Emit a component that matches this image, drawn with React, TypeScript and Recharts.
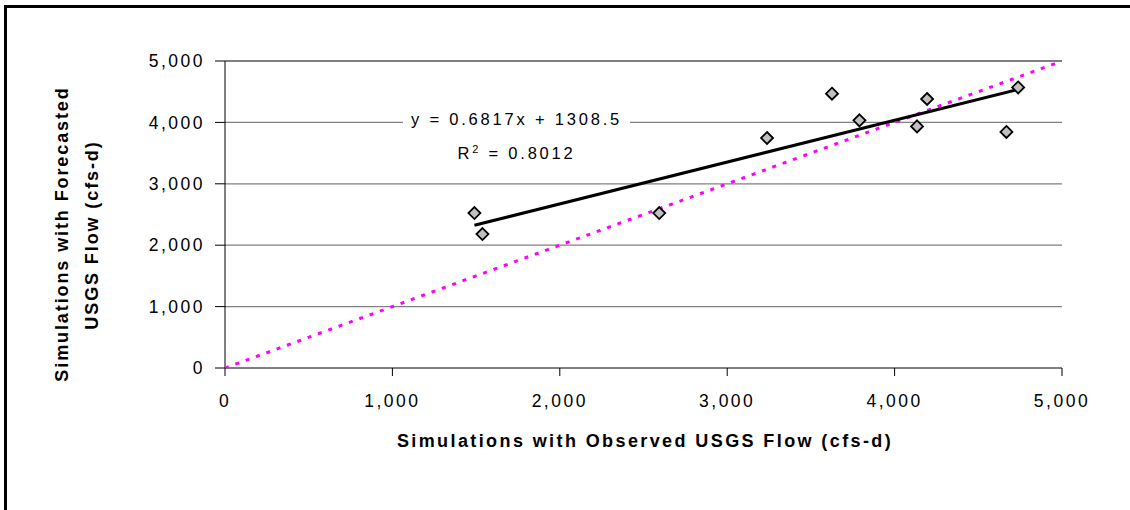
import { ScatterChart, Scatter, XAxis, YAxis, CartesianGrid, ReferenceLine } from "recharts";

// observed (x) vs forecasted (y) simulation results, cfs-d
const observed = [1490, 1538, 2594, 3238, 3626, 3790, 4134, 4194, 4668, 4738];
const forecasted = [2524, 2182, 2524, 3746, 4467, 4033, 3935, 4381, 3844, 4570];
const points = observed.map((x, i) => ({ x, y: forecasted[i] }));

// linear trend end points (y = 0.6817x + 1308.5) and 1:1 line
const trendLine = [
  { x: 1490, y: 2324 },
  { x: 4738, y: 4538 },
];
const oneToOne = [
  { x: 0, y: 0 },
  { x: 5000, y: 5000 },
];

const ticks = [0, 1000, 2000, 3000, 4000, 5000];
const gridTicks = [1000, 2000, 3000, 4000];

const FONT = "'Liberation Sans', Arial, sans-serif";
const fmt = (v: number) => v.toLocaleString("en-US");

const Diamond = (props: any) => {
  const { cx, cy } = props;
  if (cx == null || cy == null) return null;
  const r = 6;
  return (
    <path
      d={`M${cx},${cy - r} L${cx + r},${cy} L${cx},${cy + r} L${cx - r},${cy} Z`}
      fill="#C0C0C0"
      stroke="#000"
      strokeWidth={1.8}
    />
  );
};

const tickStyle = { fontFamily: FONT, fontSize: 17.5, fill: "#000", letterSpacing: 2.5 };

export default function App() {
  return (
    <div style={{ position: "absolute", left: 0, top: 0, width: 1130, height: 510, overflow: "hidden", background: "#fff" }}>
      <div
        style={{
          position: "absolute",
          left: 4,
          top: 5,
          width: 1200,
          height: 600,
          borderTop: "3px solid #000",
          borderLeft: "3px solid #000",
        }}
      />
      <ScatterChart width={1130} height={510} margin={{ top: 61, right: 68, bottom: 112, left: 110 }}>
        <CartesianGrid horizontal vertical={false} stroke="#808080" strokeWidth={1.2} horizontalValues={gridTicks} />
        <ReferenceLine y={5000} stroke="#000" strokeWidth={1.2} />
        <XAxis
          type="number"
          dataKey="x"
          domain={[0, 5000]}
          ticks={ticks}
          tickFormatter={fmt}
          height={30}
          tickSize={8}
          tickMargin={19}
          stroke="#000"
          tick={tickStyle}
          allowDataOverflow
        />
        <YAxis
          type="number"
          dataKey="y"
          domain={[0, 5000]}
          ticks={ticks}
          tickFormatter={fmt}
          width={115}
          tickSize={10}
          tickMargin={10}
          stroke="#000"
          tick={tickStyle}
          allowDataOverflow
        />
        <Scatter
          data={oneToOne}
          line={{ stroke: "#FF00FF", strokeWidth: 3, strokeDasharray: "4 7" }}
          shape={() => null}
          isAnimationActive={false}
        />
        <Scatter
          data={trendLine}
          line={{ stroke: "#000", strokeWidth: 3 }}
          shape={() => null}
          isAnimationActive={false}
        />
        <Scatter data={points} shape={Diamond} isAnimationActive={false} />
      </ScatterChart>

      {/* trendline equation box */}
      <div
        style={{
          position: "absolute",
          left: 403,
          top: 102,
          width: 227,
          height: 66,
          background: "#fff",
          fontFamily: FONT,
          fontSize: 16.5,
          letterSpacing: 2.8,
          color: "#000",
          textAlign: "center",
          lineHeight: "34px",
        }}
      >
        <div>y = 0.6817x + 1308.5</div>
        <div>
          R<sup style={{ fontSize: 11, lineHeight: 0 }}>2</sup> = 0.8012
        </div>
      </div>

      <svg width={1130} height={510} style={{ position: "absolute", left: 0, top: 0, pointerEvents: "none" }}>
        <text
          x={645}
          y={447}
          textAnchor="middle"
          fontFamily={FONT}
          fontSize={18}
          fontWeight="bold"
          letterSpacing={2.4}
        >
          Simulations with Observed USGS Flow (cfs-d)
        </text>
        <text
          transform="translate(68,234) rotate(-90)"
          textAnchor="middle"
          fontFamily={FONT}
          fontSize={18}
          fontWeight="bold"
          letterSpacing={1.9}
        >
          Simulations with Forecasted
        </text>
        <text
          transform="translate(98,235) rotate(-90)"
          textAnchor="middle"
          fontFamily={FONT}
          fontSize={18}
          fontWeight="bold"
          letterSpacing={1.9}
        >
          USGS Flow (cfs-d)
        </text>
      </svg>
    </div>
  );
}
